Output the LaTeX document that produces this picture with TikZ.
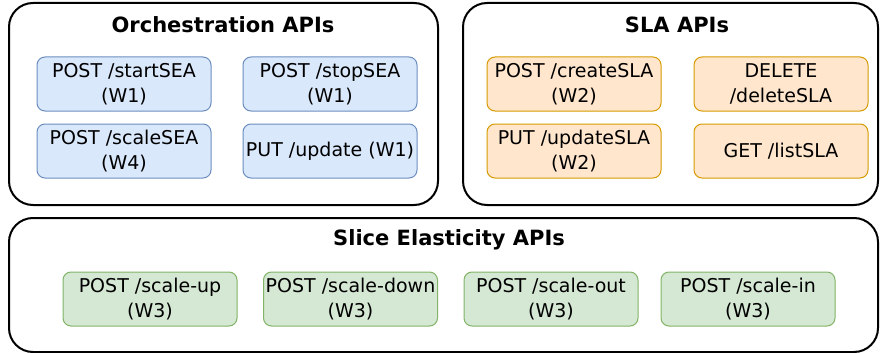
\documentclass[tikz,border=0pt]{standalone}
\usepackage{fontspec}
\setmainfont{DejaVu Sans}
\definecolor{orchfill}{HTML}{DAE8FC}
\definecolor{orchline}{HTML}{6C8EBF}
\definecolor{slafill}{HTML}{FFE6CC}
\definecolor{slaline}{HTML}{D79B00}
\definecolor{elafill}{HTML}{D5E8D4}
\definecolor{elaline}{HTML}{82B366}
\tikzset{
	group/.style={draw=black, line width=2pt, rounded corners=24pt, fill=white,
		minimum height=202pt, inner sep=0pt},
	grouptitle/.style={font=\bfseries\fontsize{21}{25}\selectfont, inner sep=0pt},
	api/.style={line width=1pt, rounded corners=8pt, minimum width=174pt,
		minimum height=54pt, inner sep=1pt, align=center,
		font=\fontsize{19}{25}\selectfont},
	orchbox/.style={api, draw=orchline, fill=orchfill},
	slabox/.style={api, draw=slaline, fill=slafill},
	elabox/.style={api, draw=elaline, fill=elafill}
}
\begin{document}
\begin{tikzpicture}[x=1pt, y=-1pt]
		\useasboundingbox (0,0) rectangle (880,353);

		% Orchestration group
		\node[group, minimum width=429pt] (orch) at (223.5,104) {};
		\node[grouptitle] (orchT) at (223,25) {Orchestration APIs};
		\node[orchbox] (start) at (124,84) {POST /startSEA\\(W1)};
		\node[orchbox] (stop) at (330,84) {POST /stopSEA\\(W1)};
		\node[orchbox] (scale) at (124,151) {POST /scaleSEA\\(W4)};
		\node[orchbox] (update) at (330,151) {PUT /update (W1)};

		% SLA group
		\node[group, minimum width=415pt] (sla) at (670.5,104) {};
		\node[grouptitle] (slaT) at (677,25) {SLA APIs};
		\node[slabox] (create) at (574,84) {POST /createSLA\\(W2)};
		\node[slabox] (delete) at (781,84) {DELETE\\/deleteSLA};
		\node[slabox] (updsla) at (574,151) {PUT /updateSLA\\(W2)};
		\node[slabox] (list) at (781,151) {GET /listSLA};

		% Slice elasticity group
		\node[group, minimum width=869pt, minimum height=134pt] (ela) at (443.5,285) {};
		\node[grouptitle] (elaT) at (449,240) {Slice Elasticity APIs};
		\node[elabox] (up) at (150,299) {POST /scale-up\\(W3)};
		\node[elabox] (down) at (350.5,299) {POST /scale-down\\(W3)};
		\node[elabox] (out) at (551,299) {POST /scale-out\\(W3)};
		\node[elabox] (in) at (748,299) {POST /scale-in\\(W3)};
	\end{tikzpicture}
\end{document}
